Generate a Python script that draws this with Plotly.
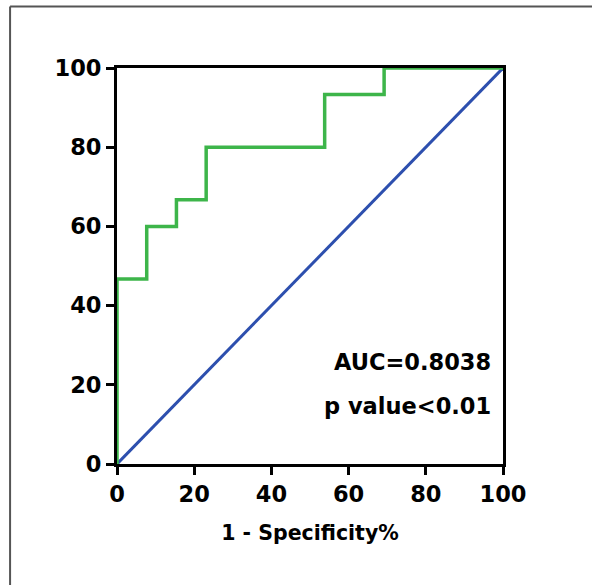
import plotly.graph_objects as go

# ROC step curve (1 - specificity %, sensitivity %)
roc_x = [0, 0, 7.7, 7.7, 15.4, 15.4, 23.1, 23.1, 53.8, 53.8, 69.2, 69.2, 100]
roc_y = [0, 46.7, 46.7, 60, 60, 66.7, 66.7, 80, 80, 93.3, 93.3, 100, 100]
ref_x = [0, 100]
ref_y = [0, 100]
tick_vals = [0, 20, 40, 60, 80, 100]
x_title = "1 - Specificity%"
auc_text = "AUC=0.8038"
p_text = "p value<0.01"

fam = "DejaVu Sans, Arial, sans-serif"
font = dict(family=fam, size=22.5, color="black", weight="bold")
tfont = dict(family=fam, size=20.5, color="black", weight="bold")

fig = go.Figure()
fig.add_trace(go.Scatter(x=ref_x, y=ref_y, mode="lines",
                         line=dict(color="#2d4fae", width=3), cliponaxis=False,
                         hoverinfo="skip", showlegend=False))
fig.add_trace(go.Scatter(x=roc_x, y=roc_y, mode="lines",
                         line=dict(color="#3db54a", width=3.5), cliponaxis=False,
                         hoverinfo="skip", showlegend=False))

fig.add_annotation(x=97.5, y=25.8, xref="x", yref="y", text=auc_text, showarrow=False,
                   xanchor="right", yanchor="middle", font=font)
fig.add_annotation(x=97.5, y=14.6, xref="x", yref="y", text=p_text, showarrow=False,
                   xanchor="right", yanchor="middle", font=font)

# outer frame (only top and left edges visible in the picture)
fig.add_shape(type="line", xref="paper", yref="paper", x0=-0.277, x1=1.3, y0=1.155, y1=1.155,
              line=dict(color="#555555", width=2))
fig.add_shape(type="line", xref="paper", yref="paper", x0=-0.277, x1=-0.277, y0=1.155, y1=-0.4,
              line=dict(color="#555555", width=2))

fig.update_layout(
    width=592, height=585,
    margin=dict(l=117, r=89, t=68, b=121),
    paper_bgcolor="white", plot_bgcolor="white",
    xaxis=dict(range=[0, 100], tickvals=tick_vals, ticks="outside", ticklen=8, tickwidth=3,
               tickcolor="black", showline=True, linecolor="black", linewidth=3, mirror=True,
               showgrid=False, zeroline=False, tickfont=font, layer="below traces",
               title=dict(text=x_title, font=tfont, standoff=20)),
    yaxis=dict(range=[0, 100], tickvals=tick_vals, ticks="outside", ticklen=8, tickwidth=3,
               tickcolor="black", showline=True, linecolor="black", linewidth=3, mirror=True,
               showgrid=False, zeroline=False, tickfont=font, layer="below traces"),
)

fig.write_html("out.html", config={"displayModeBar": False},
               post_script="document.body.style.margin='0px';")
